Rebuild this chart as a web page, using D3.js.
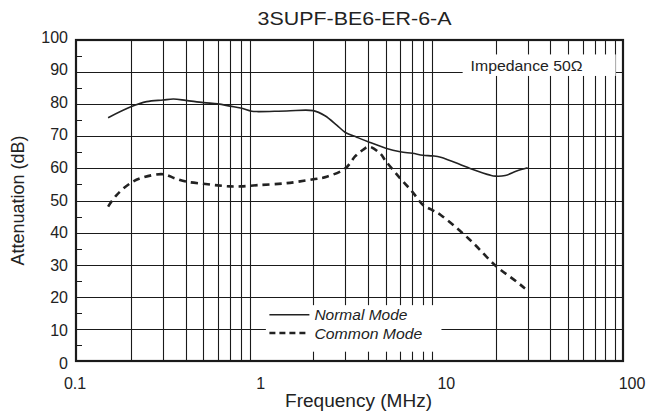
<!DOCTYPE html>
<html>
<head>
<meta charset="utf-8">
<script src="https://cdn.jsdelivr.net/npm/d3@7"></script>
<style>
  body { margin: 0; background: #fff; }
  text { font-family: Arial, "Liberation Sans", sans-serif; fill: #222; }
</style>
</head>
<body>
<div id="chart"></div>
<script>
const chartTitle = "3SUPF-BE6-ER-6-A";
const xTicks = [0.1, 1, 10, 100];
const yTicks = [0, 10, 20, 30, 40, 50, 60, 70, 80, 90, 100];
const yMinorTicks = [5, 15, 25, 35, 45, 55, 65, 75, 85, 95];

const normalFreq = [0.15, 0.2, 0.244, 0.3, 0.342, 0.4, 0.5, 0.6, 0.7, 0.8, 0.92, 1.0, 1.43, 2.0, 2.32, 2.69, 3.0, 3.47, 4, 5, 6, 7, 8, 9, 10, 14.5, 18.7, 20, 22.6, 26.1, 30];
const normalAtt = [75.8, 79.2, 80.8, 81.3, 81.6, 81.2, 80.5, 80.1, 79.4, 78.8, 77.8, 77.7, 77.9, 78.0, 76.4, 73.5, 71.2, 69.7, 68.3, 66.3, 65.2, 64.7, 64.1, 63.9, 63.5, 60.0, 57.9, 57.6, 57.8, 59.2, 60.2];

const commonFreq = [0.15, 0.167, 0.2, 0.234, 0.3, 0.349, 0.4, 0.5, 0.6, 0.7, 0.8, 1.0, 1.43, 2.0, 2.37, 3.0, 3.4, 3.77, 4.04, 4.65, 5, 6, 7, 8, 9, 10, 14.5, 20, 26.1, 29];
const commonAtt = [48.1, 51.7, 55.5, 57.2, 58.2, 56.9, 55.9, 55.2, 54.7, 54.4, 54.4, 54.8, 55.4, 56.6, 57.4, 60.0, 63.8, 65.9, 66.8, 64.7, 62.3, 56.9, 52.7, 48.6, 47.0, 45.5, 37.7, 29.7, 24.7, 22.6];

const margin = { top: 40, left: 76 };
const width = 547, height = 321;

// grid lines at 2..9 of each decade
const gridFreqs = [];
[0.1, 1, 10].forEach(d => { for (let k = 2; k <= 9; k++) gridFreqs.push(+(d * k).toPrecision(2)); });

const svg = d3.select("#chart").append("svg")
    .attr("width", 648)
    .attr("height", 415);

const g = svg.append("g")
    .attr("transform", `translate(${margin.left},${margin.top})`);

const xScale = d3.scaleLog().domain([0.1, 100]).range([0, width]);
const yScale = d3.scaleLinear().domain([0, 100]).range([height, 0]);
// tick labels in the source sit slightly off the grid
const xLabelScale = d3.scaleLog().domain([0.1, 100]).range([-1, width + 9]);
const yLabelScale = d3.scaleLinear().domain([0, 100]).range([height + 2, -3]);

g.selectAll(".vGrid")
    .data(gridFreqs)
    .enter().append("line")
    .attr("class", "vGrid")
    .attr("x1", d => Math.round(xScale(d)) + 0.5)
    .attr("x2", d => Math.round(xScale(d)) + 0.5)
    .attr("y1", 0)
    .attr("y2", height)
    .attr("stroke", "#1a1a1a")
    .attr("stroke-width", 1.1);

g.selectAll(".hGrid")
    .data(yTicks.filter(d => d > 0 && d < 100))
    .enter().append("line")
    .attr("class", "hGrid")
    .attr("x1", 0)
    .attr("x2", width)
    .attr("y1", d => Math.round(yScale(d)) + 0.5)
    .attr("y2", d => Math.round(yScale(d)) + 0.5)
    .attr("stroke", "#1a1a1a")
    .attr("stroke-width", 1.1);

g.selectAll(".minorTick")
    .data(yMinorTicks)
    .enter().append("line")
    .attr("class", "minorTick")
    .attr("x1", 0)
    .attr("x2", 6)
    .attr("y1", d => Math.round(yScale(d)) + 0.5)
    .attr("y2", d => Math.round(yScale(d)) + 0.5)
    .attr("stroke", "#1a1a1a");

// white boxes behind the note and the legend
g.append("rect")
    .attr("x", xScale(13.2))
    .attr("y", yScale(95.5))
    .attr("width", xScale(90) - xScale(13.2) + 1)
    .attr("height", yScale(88.8) - yScale(95.5))
    .attr("fill", "#fff");

g.append("rect")
    .attr("x", xScale(1.1))
    .attr("y", yScale(17.4))
    .attr("width", xScale(10.1) - xScale(1.1))
    .attr("height", yScale(2.9) - yScale(17.4))
    .attr("fill", "#fff");

const line = (fs, vs) => d3.line()
    .x(i => xScale(fs[i]))
    .y(i => yScale(vs[i]))
    .curve(d3.curveCatmullRom.alpha(0.5))(d3.range(fs.length));

g.append("path")
    .attr("class", "normalLine")
    .attr("fill", "none")
    .attr("stroke", "#222")
    .attr("stroke-width", 1.6)
    .attr("d", line(normalFreq, normalAtt));

g.append("path")
    .attr("class", "commonLine")
    .attr("fill", "none")
    .attr("stroke", "#222")
    .attr("stroke-width", 2.6)
    .attr("stroke-dasharray", "7,5")
    .attr("d", line(commonFreq, commonAtt));

g.append("rect")
    .attr("x", 0)
    .attr("y", 0)
    .attr("width", width)
    .attr("height", height)
    .attr("fill", "none")
    .attr("stroke", "#1a1a1a")
    .attr("stroke-width", 2.2);

// tick labels
g.selectAll(".xLabel")
    .data(xTicks)
    .enter().append("text")
    .attr("class", "xLabel")
    .attr("x", d => xLabelScale(d))
    .attr("y", height + 28)
    .attr("text-anchor", "middle")
    .attr("font-size", "16px")
    .text(d => d);

g.selectAll(".yLabel")
    .data(yTicks)
    .enter().append("text")
    .attr("class", "yLabel")
    .attr("x", -8)
    .attr("y", d => yLabelScale(d))
    .attr("text-anchor", "end")
    .attr("dominant-baseline", "central")
    .attr("font-size", "16px")
    .text(d => d);

// legend
const legendX = xScale(1.15);
const legendItems = [
    { label: "Normal Mode", y: yScale(14.4), dash: null, w: 1.6, len: 93 },
    { label: "Common Mode", y: yScale(8.7), dash: "6,4", w: 2.6, len: 108 }
];
legendItems.forEach(item => {
    g.append("line")
        .attr("x1", legendX)
        .attr("x2", legendX + 40)
        .attr("y1", item.y)
        .attr("y2", item.y)
        .attr("stroke", "#222")
        .attr("stroke-width", item.w)
        .attr("stroke-dasharray", item.dash);
    g.append("text")
        .attr("x", legendX + 45)
        .attr("y", item.y)
        .attr("dominant-baseline", "central")
        .attr("font-size", "15px")
        .attr("font-style", "italic")
        .attr("textLength", item.len)
        .attr("lengthAdjust", "spacingAndGlyphs")
        .text(item.label);
});

g.append("text")
    .attr("x", xScale(14.6))
    .attr("y", yScale(92.2))
    .attr("dominant-baseline", "central")
    .attr("font-size", "15px")
    .attr("textLength", 112)
    .attr("lengthAdjust", "spacingAndGlyphs")
    .text("Impedance 50Ω");

svg.append("text")
    .attr("x", 354.5)
    .attr("y", 25)
    .attr("text-anchor", "middle")
    .attr("font-size", "19px")
    .attr("textLength", 194)
    .attr("lengthAdjust", "spacingAndGlyphs")
    .text(chartTitle);

svg.append("text")
    .attr("x", 358.5)
    .attr("y", 407)
    .attr("text-anchor", "middle")
    .attr("font-size", "18px")
    .attr("textLength", 147)
    .attr("lengthAdjust", "spacingAndGlyphs")
    .text("Frequency (MHz)");

svg.append("text")
    .attr("transform", `translate(24,${margin.top + height / 2}) rotate(-90)`)
    .attr("text-anchor", "middle")
    .attr("font-size", "18px")
    .text("Attenuation (dB)");
</script>
</body>
</html>
